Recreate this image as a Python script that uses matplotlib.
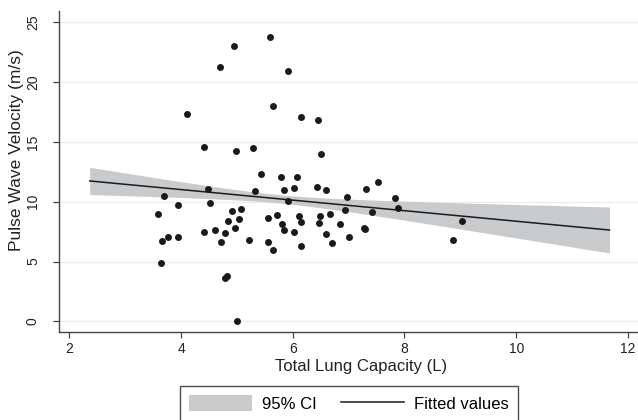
import numpy as np
import matplotlib
matplotlib.use("Agg")
import matplotlib.pyplot as plt

plt.rcParams['font.family'] = ['Liberation Sans', 'DejaVu Sans']

# Total lung capacity (L) and pulse wave velocity (m/s)
tlc = [3.58, 3.70, 3.94, 3.66, 3.76, 3.95, 3.64, 4.48, 4.51, 4.41,
       4.60, 4.78, 4.72, 4.84, 4.92, 5.03, 5.08, 4.97, 5.22, 4.78,
       4.83, 5.00, 5.33, 5.43, 5.79, 6.08, 5.84, 6.02, 5.91, 5.56,
       5.72, 5.81, 5.85, 5.55, 5.65, 6.02, 6.11, 6.14, 6.14, 6.43,
       6.59, 6.49, 6.47, 6.66, 6.59, 6.71, 6.85, 6.93, 6.97, 7.00,
       7.31, 7.53, 7.83, 7.89, 7.42, 7.28, 7.30, 9.03, 8.86, 5.60,
       4.95, 4.69, 5.92, 4.10, 5.65, 6.15, 6.46, 4.41, 4.98, 5.29,
       6.51]
pwv = [8.96, 10.51, 9.73, 6.70, 7.08, 7.06, 4.91, 11.07, 9.87, 7.48,
       7.62, 7.39, 6.62, 8.42, 9.23, 8.59, 9.37, 7.84, 6.81, 3.63,
       3.80, 0.0, 10.90, 12.30, 12.10, 12.07, 10.96, 11.13, 10.07, 8.62,
       8.90, 8.12, 7.67, 6.62, 5.97, 7.45, 8.79, 8.31, 6.33, 11.24,
       11.01, 8.81, 8.23, 9.01, 7.28, 6.56, 8.17, 9.29, 10.40, 7.08,
       11.07, 11.63, 10.29, 9.51, 9.15, 7.81, 7.73, 8.42, 6.81, 23.79,
       23.02, 21.26, 20.95, 17.33, 17.98, 17.08, 16.86, 14.60, 14.24, 14.52,
       13.97]

# fitted line end points as drawn
fit_x = [2.365, 11.67]
fit_y = [11.74, 7.64]
# CI half width: narrowest at ci_x0, and at the two ends of the line
ci_x0 = 5.76
ci_hw0 = 0.35
ci_hw_left = 1.14
ci_hw_right = 1.92

slope = (fit_y[1] - fit_y[0]) / (fit_x[1] - fit_x[0])
xs = np.linspace(fit_x[0], fit_x[1], 200)
yhat = fit_y[0] + slope * (xs - fit_x[0])
# hyperbolic band like an OLS mean CI: hw^2 = a + b (x - x0)^2
a = ci_hw0 ** 2
b_left = (ci_hw_left ** 2 - a) / (ci_x0 - fit_x[0]) ** 2
b_right = (ci_hw_right ** 2 - a) / (fit_x[1] - ci_x0) ** 2
bb = np.where(xs < ci_x0, b_left, b_right)
hw = np.sqrt(a + bb * (xs - ci_x0) ** 2)

W, H = 638.0, 420.0
fig = plt.figure(figsize=(6.38, 4.2), dpi=100)
ax = fig.add_axes([58.7 / W, 1 - 332 / H, (W - 58.7) / W, (332 - 11) / H])

ax.fill_between(xs, yhat - hw, yhat + hw, color='#c9cacc', linewidth=0, label='95% CI', zorder=2)
ax.plot(xs, yhat, color='#1a1a1a', lw=1.1, label='Fitted values', zorder=3)
ax.scatter(tlc, pwv, s=25, color='#1a1a1a', linewidths=0, zorder=4)

ax.set_xlim(1.81, 12.18)
ax.set_ylim(-0.88, 25.94)
ax.set_xticks([2, 4, 6, 8, 10, 12])
ax.set_yticks([0, 5, 10, 15, 20, 25])
ax.yaxis.grid(True, color='#ededed', lw=1.0, zorder=0)
ax.set_axisbelow(True)

for sp in ['top', 'right']:
    ax.spines[sp].set_visible(False)
for sp in ['left', 'bottom']:
    ax.spines[sp].set_color('#444444')
    ax.spines[sp].set_linewidth(1.0)

ax.tick_params(axis='both', direction='out', length=4.5, width=0.9, color='#444444',
               labelsize=10, labelcolor='#222222')
ax.tick_params(axis='x', pad=3)
ax.tick_params(axis='y', pad=9)
for lab in ax.get_yticklabels():
    lab.set_rotation(90)
    lab.set_va('center')

fig.text(361.5 / W, 1 - 366.8 / H, 'Total Lung Capacity (L)', fontsize=12,
         color='#222222', ha='center', va='center')
fig.text(17 / W, 1 - 150 / H, 'Pulse Wave Velocity (m/s)', fontsize=12.5,
         color='#222222', ha='center', va='center', rotation=90)

leg = fig.legend(loc='upper left', bbox_to_anchor=(180 / W, 1 - 386 / H), ncol=2,
                 fontsize=12, frameon=True, fancybox=False, handlelength=3.75,
                 handleheight=1.05, handletextpad=0.6, columnspacing=1.5,
                 borderpad=0.55, borderaxespad=0)
leg.get_frame().set_edgecolor('#222222')
leg.get_frame().set_linewidth(1.0)

fig.savefig('out.png', dpi=100)
